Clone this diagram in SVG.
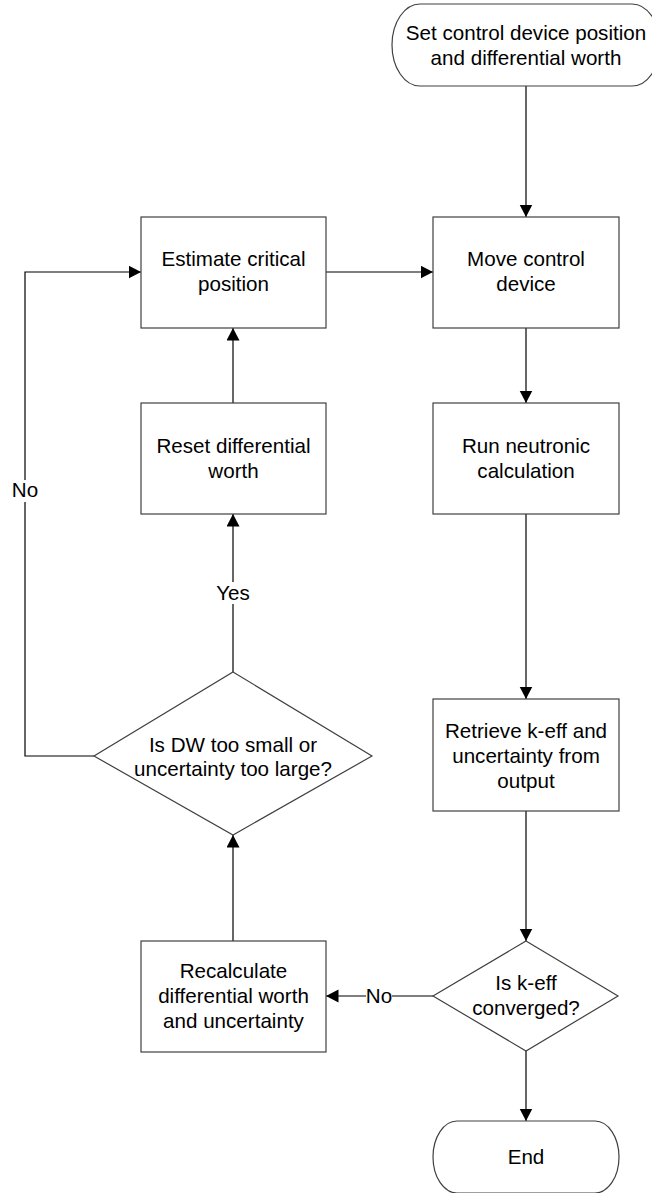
<svg xmlns="http://www.w3.org/2000/svg" width="652" height="1193" viewBox="0 0 652 1193">
<style>
.shape{fill:#ffffff;stroke:#404040;stroke-width:1.2}
.t{font-family:"Liberation Sans",Arial,sans-serif;font-size:20.6px;fill:#000;text-anchor:middle}
.c{fill:none;stroke:#000;stroke-width:1.2}
.lbg{fill:#ffffff;stroke:none}
</style>
<defs>
<marker id="ah" markerUnits="userSpaceOnUse" markerWidth="13" markerHeight="14" refX="12.5" refY="6.5" orient="auto">
<path d="M0,0 L12.5,6.5 L0,13 z" fill="#000"/>
</marker>
</defs>
<rect width="652" height="1193" fill="#ffffff"/>
<g id="connectors">
<path class="c" d="M526,86 L526,217" marker-end="url(#ah)"/>
<path class="c" d="M326,272 L433,272" marker-end="url(#ah)"/>
<path class="c" d="M526,328 L526,403" marker-end="url(#ah)"/>
<path class="c" d="M526,514 L526,699" marker-end="url(#ah)"/>
<path class="c" d="M526,811 L526,941" marker-end="url(#ah)"/>
<path class="c" d="M526,1051 L526,1121" marker-end="url(#ah)"/>
<path class="c" d="M433,996 L326,996" marker-end="url(#ah)"/>
<path class="c" d="M233,941 L233,835" marker-end="url(#ah)"/>
<path class="c" d="M233,672 L233,514" marker-end="url(#ah)"/>
<path class="c" d="M233,403 L233,328" marker-end="url(#ah)"/>
<path class="c" d="M94,756 L25,756 L25,272 L141,272" marker-end="url(#ah)"/>
<rect class="lbg" x="12" y="480" width="26" height="22"/>
<text class="t" x="25" y="497">No</text>
<rect class="lbg" x="214" y="582" width="38" height="22"/>
<text class="t" x="233" y="600">Yes</text>
<rect class="lbg" x="366" y="985" width="26" height="22"/>
<text class="t" x="379" y="1003">No</text>
</g>
<g id="start">
<rect class="shape" x="392" y="4" width="268" height="82" rx="28" ry="41"/>
<text class="t" x="526" y="40">Set control device position</text>
<text class="t" x="526" y="65">and differential worth</text>
</g>
<g id="estimate">
<rect class="shape" x="141" y="217" width="185" height="111"/>
<text class="t" x="233.5" y="265.5">Estimate critical</text>
<text class="t" x="233.5" y="290.5">position</text>
</g>
<g id="move">
<rect class="shape" x="433" y="217" width="186" height="111"/>
<text class="t" x="526" y="265.5">Move control</text>
<text class="t" x="526" y="290.5">device</text>
</g>
<g id="reset">
<rect class="shape" x="141" y="403" width="185" height="111"/>
<text class="t" x="233.5" y="453">Reset differential</text>
<text class="t" x="233.5" y="478">worth</text>
</g>
<g id="run">
<rect class="shape" x="433" y="403" width="186" height="111"/>
<text class="t" x="526" y="453">Run neutronic</text>
<text class="t" x="526" y="478">calculation</text>
</g>
<g id="retrieve">
<rect class="shape" x="433" y="699" width="186" height="112"/>
<text class="t" x="526" y="737.5">Retrieve k-eff and</text>
<text class="t" x="526" y="762.5">uncertainty from</text>
<text class="t" x="526" y="787.5">output</text>
</g>
<g id="decision-dw">
<polygon class="shape" points="233,672 372,756 233,835 94,756"/>
<text class="t" x="233" y="752">Is DW too small or</text>
<text class="t" x="233" y="776">uncertainty too large?</text>
</g>
<g id="recalc">
<rect class="shape" x="141" y="941" width="185" height="111"/>
<text class="t" x="233.5" y="978">Recalculate</text>
<text class="t" x="233.5" y="1003">differential worth</text>
<text class="t" x="233.5" y="1028">and uncertainty</text>
</g>
<g id="decision-keff">
<polygon class="shape" points="526,941 618,996 526,1051 433,996"/>
<text class="t" x="526" y="990">Is k-eff</text>
<text class="t" x="526" y="1015">converged?</text>
</g>
<g id="end">
<rect class="shape" x="433" y="1121" width="186" height="72" rx="24" ry="36"/>
<text class="t" x="526" y="1164">End</text>
</g>
</svg>
